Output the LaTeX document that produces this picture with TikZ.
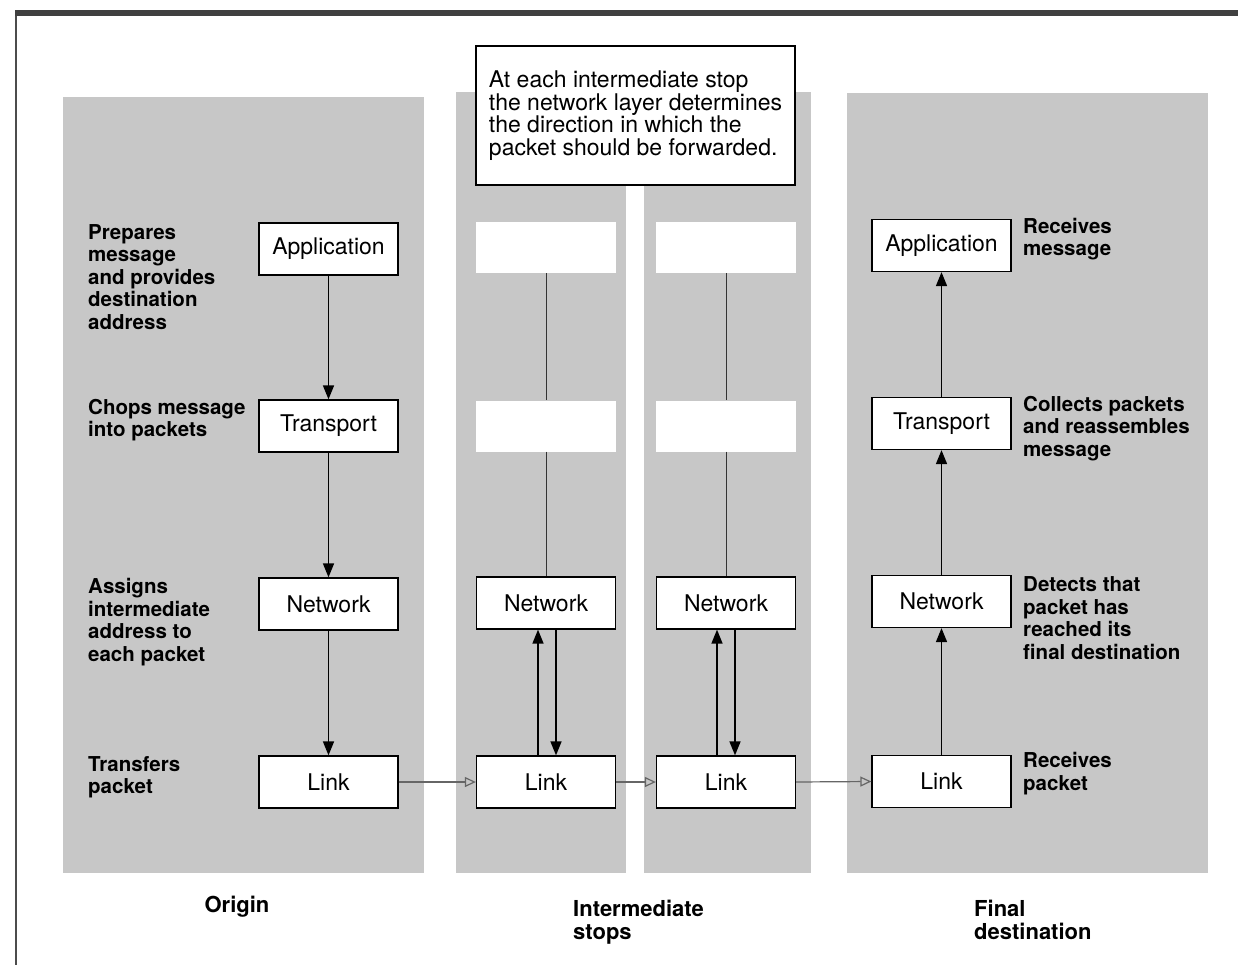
\documentclass[tikz,border=0pt]{standalone}
\usepackage{fontspec}
\setmainfont{TeX Gyre Heros}
\usetikzlibrary{arrows.meta}
\begin{document}
\begin{tikzpicture}[x=1pt,y=-1pt,
  panel/.style={fill=black!22, draw=none},
  layer/.style={draw=black, line width=1.3pt, fill=white, minimum width=139pt, minimum height=52pt, inner sep=0pt, font=\fontsize{23}{27}\selectfont},
  blank/.style={fill=white, draw=none, minimum width=140pt, minimum height=51pt, inner sep=0pt},
  note/.style={font=\bfseries\fontsize{20.5}{22.5}\selectfont, align=left, anchor=west, inner sep=0pt},
  flow/.style={line width=1.6pt, -{Triangle[width=11pt,length=14pt]}},
  hop/.style={draw=black!60, line width=1.2pt, -{Triangle[open,width=10pt,length=11pt]}},
  thinline/.style={line width=0.8pt, draw=black!80},
  caption/.style={font=\bfseries\fontsize{22}{22.5}\selectfont, align=left, inner sep=0pt}
]
\useasboundingbox (0,0) rectangle (1238,965);
% frame
\fill[black!75] (15,10) rectangle (1238,16);
\draw[black!70, line width=1.5pt] (15.75,16) -- (15.75,965);
% panels
\fill[panel] (63,97) rectangle (424,873);
\fill[panel] (456,92) rectangle (626,873);
\fill[panel] (644,92) rectangle (811,873);
\fill[panel] (847,93) rectangle (1208,873);
% explanation box
\node[draw, line width=1.3pt, fill=white, minimum width=319pt, minimum height=139pt, inner sep=0pt, align=left, font=\fontsize{23}{22.5}\selectfont] (expl) at (635.5,115.5)
  {At each intermediate stop\\the network layer determines\\the direction in which the\\packet should be forwarded.};
% origin
\node[layer] (oapp) at (328.5,249) {Application};
\node[layer] (otr) at (328.5,426) {Transport};
\node[layer] (onet) at (328.5,604) {Network};
\node[layer] (olink) at (328.5,782) {Link};
% intermediate 1
\node[blank] (aapp) at (546,247.5) {};
\node[blank] (atr) at (546,426) {};
\node[layer] (anet) at (546,603) {Network};
\node[layer] (alink) at (546,782) {Link};
% intermediate 2
\node[blank] (bapp) at (726,247.5) {};
\node[blank] (btr) at (726,426) {};
\node[layer] (bnet) at (726,603) {Network};
\node[layer] (blink) at (726,782) {Link};
% final
\node[layer] (fapp) at (941.5,245.5) {Application};
\node[layer] (ftr) at (941.5,423.5) {Transport};
\node[layer] (fnet) at (941.5,601.5) {Network};
\node[layer] (flink) at (941.5,781.5) {Link};
% origin arrows
\draw[flow] (oapp.south) -- (otr.north);
\draw[flow] (otr.south) -- (onet.north);
\draw[flow] (onet.south) -- (olink.north);
% final arrows
\draw[flow] (flink.north) -- (fnet.south);
\draw[flow] (fnet.north) -- (ftr.south);
\draw[flow] (ftr.north) -- (fapp.south);
% intermediate thin lines
\draw[thinline] (aapp.south) -- (atr.north);
\draw[thinline] (atr.south) -- (anet.north);
\draw[thinline] (bapp.south) -- (btr.north);
\draw[thinline] (btr.south) -- (bnet.north);
% intermediate up/down arrows
\draw[flow] ([xshift=-8pt]alink.north) -- ([xshift=-8pt]anet.south);
\draw[flow] ([xshift=10pt]anet.south) -- ([xshift=10pt]alink.north);
\draw[flow] ([xshift=-9pt]blink.north) -- ([xshift=-9pt]bnet.south);
\draw[flow] ([xshift=9pt]bnet.south) -- ([xshift=9pt]blink.north);
% hops
\draw[hop] (olink.east) -- (alink.west);
\draw[hop] (alink.east) -- (blink.west);
\draw[hop] (blink.east) -- (flink.west);
% origin notes
\node[note] (n1) at (88,277) {Prepares\\message\\and provides\\destination\\address};
\node[note] (n2) at (88,420) {Chops message\\into packets};
\node[note] (n3) at (88,622) {Assigns\\intermediate\\address to\\each packet};
\node[note] (n4) at (88,777.5) {Transfers\\packet};
% final notes
\node[note] (m1) at (1023,239) {Receives\\message};
\node[note] (m2) at (1023,428.5) {Collects packets\\and reassembles\\message};
\node[note] (m3) at (1023,618) {Detects that\\packet has\\reached its\\final destination};
\node[note] (m4) at (1023,773.5) {Receives\\packet};
% captions
\node[caption] (c1) at (237,907) {Origin};
\node[caption, anchor=west] (c2) at (573,922) {Intermediate\\stops};
\node[caption, anchor=west] (c3) at (974,920) {Final\\destination};
\end{tikzpicture}
\end{document}
